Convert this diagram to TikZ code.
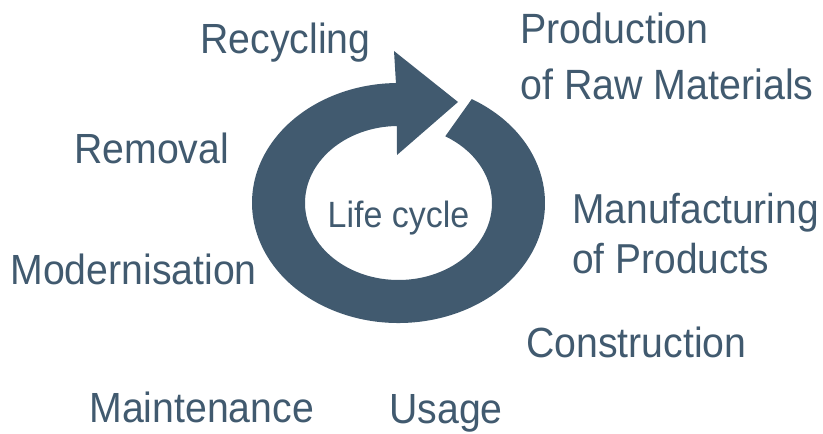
\documentclass[tikz,border=0pt]{standalone}
\usepackage{fontspec}
\setmainfont{Liberation Sans}[FakeStretch=0.93]
\usetikzlibrary{calc}
\definecolor{cyclecol}{HTML}{415A6F}

\begin{document}
\begin{tikzpicture}[
		stage/.style={text=cyclecol,inner sep=0pt,anchor=base west,align=left,
			font=\fontsize{24}{28}\selectfont},
	]
			\def\ax{2.93}
			\def\ay{2.40}
			\def\bx{1.87}
			\def\by{1.54}
			\useasboundingbox (0,0) rectangle (16.46,8.66);
			% ring with arrow head
			\coordinate (lc) at (7.97,4.60);
			\coordinate (headtop) at ($(lc)+(-0.09,3.04)$);
			\coordinate (tip) at ($(lc)+(1.19,2.02)$);
			\coordinate (headbot) at ($(lc)+(-0.03,0.96)$);
			\fill[cyclecol] ($(lc)+(60:\ax cm and \ay cm)$)
				arc[start angle=60,end angle=-269,x radius=\ax cm,y radius=\ay cm]
				-- (headtop) -- (tip) -- (headbot)
				-- ($(lc)+(-269:\bx cm and \by cm)$)
				arc[start angle=-269,end angle=60,x radius=\bx cm,y radius=\by cm]
				-- cycle;
			\node[stage,anchor=base,font=\fontsize{20.8}{24}\selectfont] (life) at (7.97,4.10) {Life cycle};
			% stages (base of a two-line node is its last line)
			\node[stage] (recycling) at (4.00,7.58) {Recycling};
			\node[stage,font=\fontsize{24.1}{32.3}\selectfont] (production) at (10.40,6.66) {Production\\of Raw Materials};
			\node[stage,font=\fontsize{23.8}{28.9}\selectfont] (manufacturing) at (11.44,3.18) {Manufacturing\\of Products};
			\node[stage] (construction) at (10.52,1.52) {Construction};
			\node[stage] (usage) at (7.78,0.20) {Usage};
			\node[stage] (maintenance) at (1.78,0.22) {Maintenance};
			\node[stage] (modernisation) at (0.20,2.96) {Modernisation};
			\node[stage] (removal) at (1.48,5.38) {Removal};
		\end{tikzpicture}
\end{document}
